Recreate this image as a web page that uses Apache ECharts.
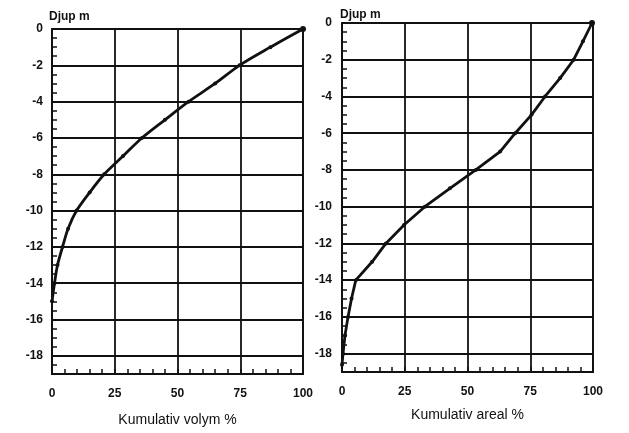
<!DOCTYPE html>
<html>
<head>
<meta charset="utf-8">
<script src="https://cdn.jsdelivr.net/npm/echarts@6/dist/echarts.min.js"></script>
<style>
html,body{margin:0;padding:0;background:#fff;}
#c{width:629px;height:433px;}
</style>
</head>
<body>
<div id="c"></div>
<script>
// Depth (m) as shown on the chart
var depthVolym = [0, -1, -2, -3, -4, -5, -6, -7, -8, -9, -10, -11, -12, -13, -14, -15];
var kumVolym   = [100, 87, 74.7, 65, 54.4, 45, 35.8, 28.3, 20.8, 15, 9.8, 6.4, 4.2, 2.2, 1.0, 0];
var depthAreal = [0, -1, -2, -3, -4, -5, -6, -7, -8, -9, -10, -11, -12, -13, -14, -15, -16, -17, -18, -18.6];
var kumAreal   = [99.6, 96, 92.3, 86.9, 80.9, 75.5, 69, 63, 53.3, 43, 33, 24.7, 17.5, 12, 5.5, 3.8, 2.4, 1.2, 0.4, 0];
var xTicks = [0, 25, 50, 75, 100];
var yTicks = [0, -2, -4, -6, -8, -10, -12, -14, -16, -18];
var xNames = ['Kumulativ volym %', 'Kumulativ areal %'];
var yName = 'Djup m';

var FONT = '"Liberation Sans", Arial, sans-serif';
var chart = echarts.init(document.getElementById('c'), null, {renderer: 'canvas'});

function pairs(xs, ds) {
  return xs.map(function (x, i) { return [x, -ds[i]]; });
}
function xAxis(idx, name, gap) {
  return {
    type: 'value', gridIndex: idx, min: xTicks[0], max: xTicks[xTicks.length - 1], interval: 25,
    name: name, nameLocation: 'middle', nameGap: gap,
    nameTextStyle: {color: '#111', fontSize: 14, fontFamily: FONT},
    axisLine: {show: true, onZero: false, lineStyle: {color: '#111', width: 2}},
    axisTick: {show: true, inside: true, length: 5, lineStyle: {color: '#111', width: 1.5}},
    minorTick: {show: true, splitNumber: 5, length: 5, lineStyle: {color: '#111', width: 1.5}},
    axisLabel: {color: '#111', fontSize: 12, fontWeight: 'bold', fontFamily: FONT, margin: 14},
    splitLine: {show: true, lineStyle: {color: '#111', width: 1.8}}
  };
}
function yAxis(idx, margin) {
  return {
    type: 'value', gridIndex: idx, inverse: true, min: 0, max: 19, interval: 2,
    axisLine: {show: true, onZero: false, lineStyle: {color: '#111', width: 2}},
    axisTick: {show: true, inside: true, length: 5, lineStyle: {color: '#111', width: 1.5}},
    minorTick: {show: true, splitNumber: 4, length: 5, lineStyle: {color: '#111', width: 1.5}},
    axisLabel: {color: '#111', fontSize: 12, fontWeight: 'bold', fontFamily: FONT, margin: margin,
      formatter: function (v) {
        if (yTicks.indexOf(-v) < 0 && v !== 0) return '';
        return v === 0 ? '0' : String(-v);
      }},
    splitLine: {show: true, lineStyle: {color: '#111', width: 1.8}}
  };
}
function series(idx, data, smooth) {
  return {
    type: 'line', xAxisIndex: idx, yAxisIndex: idx, data: data, smooth: smooth,
    symbol: 'circle',
    symbolSize: function (v, p) { return p.dataIndex === 0 ? 6 : 4; },
    lineStyle: {color: '#111', width: 2.8},
    itemStyle: {color: '#111'},
    animation: false, silent: true
  };
}

chart.setOption({
  animation: false,
  backgroundColor: '#fff',
  grid: [
    {left: 52, right: 326, top: 29, bottom: 59, show: true, borderColor: '#111', borderWidth: 1.8},
    {left: 342, right: 36, top: 23, bottom: 61, show: true, borderColor: '#111', borderWidth: 1.8}
  ],
  xAxis: [xAxis(0, xNames[0], 39), xAxis(1, xNames[1], 36)],
  yAxis: [yAxis(0, 9), yAxis(1, 10)],
  series: [series(0, pairs(kumVolym, depthVolym), 0.3), series(1, pairs(kumAreal, depthAreal), false)],
  graphic: [
    {type: 'text', left: 49, top: 11, style: {text: yName, fill: '#111', font: 'bold 12px ' + FONT}},
    {type: 'text', left: 340, top: 9, style: {text: yName, fill: '#111', font: 'bold 12px ' + FONT}}
  ]
});
</script>
</body>
</html>
